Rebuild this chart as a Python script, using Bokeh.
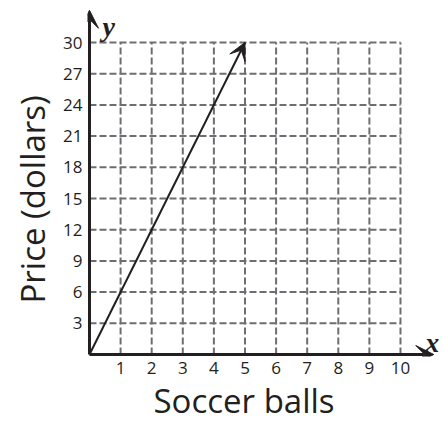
from bokeh.plotting import figure
from bokeh.models import Range1d, FixedTicker, Arrow, VeeHead, Label, Title
from bokeh.embed import file_html
from bokeh.resources import INLINE

# Data
soccer_balls = [0, 5]
price = [0, 30]
x_ticks = [1, 2, 3, 4, 5, 6, 7, 8, 9, 10]
y_ticks = [3, 6, 9, 12, 15, 18, 21, 24, 27, 30]
x_label = "Soccer balls"
y_label = "Price (dollars)"
x_axis_end = 11.07
y_axis_end = 33.1

INK = "#231f20"
GRID = "#6d6e71"

p = figure(width=443, height=421, output_backend="svg", toolbar_location=None,
           x_range=Range1d(-0.064, 11.383), y_range=Range1d(-0.192, 34.04),
           min_border_left=87, min_border_right=0, min_border_top=0,
           min_border_bottom=65)
p.outline_line_color = None
p.grid.visible = False
p.background_fill_color = "white"
p.border_fill_color = "white"

for ax, ticks in ((p.xaxis, x_ticks), (p.yaxis, y_ticks)):
    ax.ticker = FixedTicker(ticks=ticks)
    ax.axis_line_color = None
    ax.major_tick_line_color = None
    ax.minor_tick_line_color = None
    ax.major_tick_out = 0
    ax.major_tick_in = 0
    ax.major_label_text_font = "Open Sans"
    ax.major_label_text_font_size = "17px"
    ax.major_label_text_color = INK
    ax.major_label_standoff = 5
p.yaxis.major_label_orientation = "horizontal"

# axis titles placed along the plotted grid
p.add_layout(Title(text=x_label, align="left", offset=66, standoff=-2,
                   text_font="Open Sans", text_font_size="33px",
                   text_font_style="normal", text_color=INK), "below")
p.add_layout(Title(text=y_label, align="left", offset=53, standoff=11,
                   text_font="Open Sans", text_font_size="33px",
                   text_font_style="normal", text_color=INK), "left")

# dashed grid limited to the plotted area
p.segment(x0=x_ticks, y0=0, x1=x_ticks, y1=y_ticks[-1],
          line_color=GRID, line_width=2, line_dash="7 3")
p.segment(x0=0, y0=y_ticks, x1=x_ticks[-1], y1=y_ticks,
          line_color=GRID, line_width=2, line_dash="7 3")

# data line
p.line(soccer_balls, price, line_color=INK, line_width=2)
p.add_layout(Arrow(end=VeeHead(size=17, fill_color=INK, line_color=INK),
                   x_start=soccer_balls[0], y_start=price[0],
                   x_end=soccer_balls[-1], y_end=price[-1],
                   line_color=INK, line_width=2, line_alpha=0))

# axes with arrows
p.add_layout(Arrow(end=VeeHead(size=18, fill_color=INK, line_color=INK),
                   x_start=0, y_start=0, x_end=x_axis_end, y_end=0,
                   line_color=INK, line_width=3))
p.add_layout(Arrow(end=VeeHead(size=18, fill_color=INK, line_color=INK),
                   x_start=0, y_start=0, x_end=0, y_end=y_axis_end,
                   line_color=INK, line_width=3))

p.add_layout(Label(x=10.8, y=1.15, text="x", text_font="Liberation Serif",
                   text_font_style="bold italic", text_font_size="28px",
                   text_baseline="alphabetic", text_color=INK))
p.add_layout(Label(x=0.42, y=31.5, text="y", text_font="Liberation Serif",
                   text_font_style="bold italic", text_font_size="28px",
                   text_baseline="alphabetic", text_color=INK))

open("out.html", "w").write(file_html(p, INLINE))
